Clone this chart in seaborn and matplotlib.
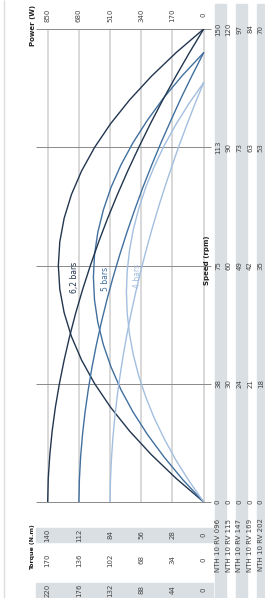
import numpy as np
import pandas as pd
import seaborn as sns
import matplotlib.pyplot as plt
from matplotlib.patches import Rectangle
import matplotlib.transforms as mtransforms

sns.set_style('white')
plt.rcParams['font.family'] = ['Liberation Sans Narrow', 'DejaVu Sans']

# Curves (speed on NTH 10 RV 096 scale, torque in N.m, power in W)
pressures = ['6,2 bars', '5 bars', '4 bars']
colors = ['#22364f', '#41709f', '#a3bfdf']

speed_62 = [0, 7.5, 15, 22.5, 30, 37.5, 45, 52.5, 60, 67.5, 75,
            82.5, 90, 97.5, 105, 112.5, 120, 127.5, 135, 142.5, 150]
torque_62 = [220, 219.2, 217.0, 213.7, 209.2, 203.5, 196.8, 189.1, 180.4, 170.6, 159.8,
             148.1, 135.4, 121.7, 107.1, 91.5, 75.1, 57.7, 39.3, 20.1, 0]
power_62 = [0, 150.5, 285.1, 403.9, 506.9, 594.0, 665.3, 720.7, 760.3, 784.1, 792,
            784.1, 760.3, 720.7, 665.3, 594.0, 506.9, 403.9, 285.1, 150.5, 0]

speed_5 = [0, 7.1, 14.3, 21.4, 28.5, 35.6, 42.8, 49.9, 57.0, 64.1, 71.3,
           78.4, 85.5, 92.6, 99.8, 106.9, 114.0, 121.1, 128.3, 135.4, 142.5]
torque_5 = [176, 175.3, 173.6, 170.9, 167.3, 162.8, 157.5, 151.3, 144.3, 136.5, 127.8,
            118.4, 108.3, 97.4, 85.7, 73.2, 60.1, 46.1, 31.5, 16.1, 0]
power_5 = [0, 114.2, 216.4, 306.5, 384.6, 450.8, 504.8, 546.9, 577.0, 595.0, 601,
           595.0, 577.0, 546.9, 504.8, 450.8, 384.6, 306.5, 216.4, 114.2, 0]

speed_4 = [0, 6.7, 13.3, 20.0, 26.6, 33.3, 39.9, 46.6, 53.2, 59.9, 66.5,
           73.2, 79.8, 86.5, 93.1, 99.8, 106.4, 113.1, 119.7, 126.4, 133]
torque_4 = [132, 131.5, 130.2, 128.2, 125.5, 122.1, 118.1, 113.5, 108.2, 102.3, 95.9,
            88.8, 81.2, 73.0, 64.3, 54.9, 45.0, 34.6, 23.6, 12.1, 0]
power_4 = [0, 80.0, 151.6, 214.7, 269.4, 315.8, 353.6, 383.1, 404.2, 416.8, 421,
           416.8, 404.2, 383.1, 353.6, 315.8, 269.4, 214.7, 151.6, 80.0, 0]

# Table labels
models = ['NTH 10 RV 096', 'NTH 10 RV 115', 'NTH 10 RV 147', 'NTH 10 RV 169', 'NTH 10 RV 202']
speed_labels = [[0, 38, 75, 113, 150],
                [0, 30, 60, 90, 120],
                [0, 24, 49, 73, 97],
                [0, 21, 42, 63, 84],
                [0, 18, 35, 53, 70]]
power_labels = [0, 170, 340, 510, 680, 850]
torque_labels = [[0, 28, 56, 84, 112, 140],
                 [0, 34, 68, 102, 136, 170],
                 [0, 44, 88, 132, 176, 220]]

W, H = 265, 598
fx = lambda px: px / W
fy = lambda py: 1 - py / H

df = pd.concat([
    pd.DataFrame({'speed': s, 'torque': t, 'power': p, 'pressure': name})
    for s, t, p, name in [(speed_62, torque_62, power_62, pressures[0]),
                          (speed_5, torque_5, power_5, pressures[1]),
                          (speed_4, torque_4, power_4, pressures[2])]
])

fig = plt.figure(figsize=(W / 100, H / 100), dpi=100)
ax = fig.add_axes([fx(36), fy(502), fx(205) - fx(36), (502 - 29) / H])
ax.set_xlim(913.7, -7.1)
ax.set_ylim(0, 150)
ax.axis('off')

# grid
speed_grid = [i * 150 / 4 for i in range(5)]
ax.vlines(power_labels, 0, 150, color='#d6d6d6', lw=1.3, zorder=0)
ax.hlines(speed_grid, 913.7, -40, color='#8a8a8a', lw=0.7, zorder=1, clip_on=False)

sns.lineplot(data=df, x='power', y='speed', hue='pressure', palette=colors,
             orient='y', estimator=None, sort=False, lw=1.0, legend=False, ax=ax)

ax2 = ax.twiny()
ax2.set_xlim(913.7 * 220 / 850, -7.1 * 220 / 850)
ax2.axis('off')
sns.lineplot(data=df, x='torque', y='speed', hue='pressure', palette=colors,
             orient='y', estimator=None, sort=False, lw=1.0, legend=False, ax=ax2)

# curve labels
for name, c, px, py in zip(pressures, colors, [75, 105, 137], [277, 279, 276]):
    fig.text(fx(px), fy(py), name, rotation=90, ha='center', va='center',
             fontsize=5.5, color=c, family='DejaVu Sans')

# background bands
for x0 in [215, 236, 257]:
    fig.patches.append(Rectangle((fx(x0), 0), 10.5 / W, fy(4), transform=fig.transFigure,
                                 color='#dadfe3', zorder=-1))
for y0 in [542, 597]:
    fig.patches.append(Rectangle((fx(36), fy(y0)), (213 - 36) / W, 14 / H, transform=fig.transFigure,
                                 color='#dadfe3', zorder=-1))
fig.patches.append(Rectangle((fx(4), 0), 0.3 / W, 1, transform=fig.transFigure,
                             color='#dddddd', zorder=-1))

# speed table
tr_y = mtransforms.blended_transform_factory(fig.transFigure, ax.transData)
for col, (name, labels) in enumerate(zip(models, speed_labels)):
    xpos = fx(218 + col * 10.7)
    for v, s in zip(labels, speed_grid):
        ax.text(xpos, s, str(v), transform=tr_y, rotation=90, ha='center', va='center',
                fontsize=5, color='#444444')
    fig.text(xpos, fy(545), name, rotation=90, ha='center', va='center', fontsize=5, color='#444444')

# power and torque tick labels
tr_x = mtransforms.blended_transform_factory(ax.transData, fig.transFigure)
for v in power_labels:
    ax.text(v, fy(15), str(v), transform=tr_x, rotation=90, ha='center', va='center',
            fontsize=5, color='#444444')
for row, py in zip(torque_labels, [535, 560, 590]):
    for v, p in zip(row, power_labels):
        ax.text(p, fy(py), str(v), transform=tr_x, rotation=90, ha='center', va='center',
                fontsize=5, color='#444444')

fig.text(fx(33), fy(25), 'Power (W)', rotation=90, ha='center', va='center',
         fontsize=5, fontweight='bold', family='DejaVu Sans', color='#222222')
fig.text(fx(207), fy(260), 'Speed (rpm)', rotation=90, ha='center', va='center',
         fontsize=5, fontweight='bold', family='DejaVu Sans', color='#222222')
fig.text(fx(33), fy(547), 'Torque (N.m)', rotation=90, ha='center', va='center',
         fontsize=4.5, fontweight='bold', family='DejaVu Sans', color='#222222')

fig.savefig('out.png', dpi=100)
